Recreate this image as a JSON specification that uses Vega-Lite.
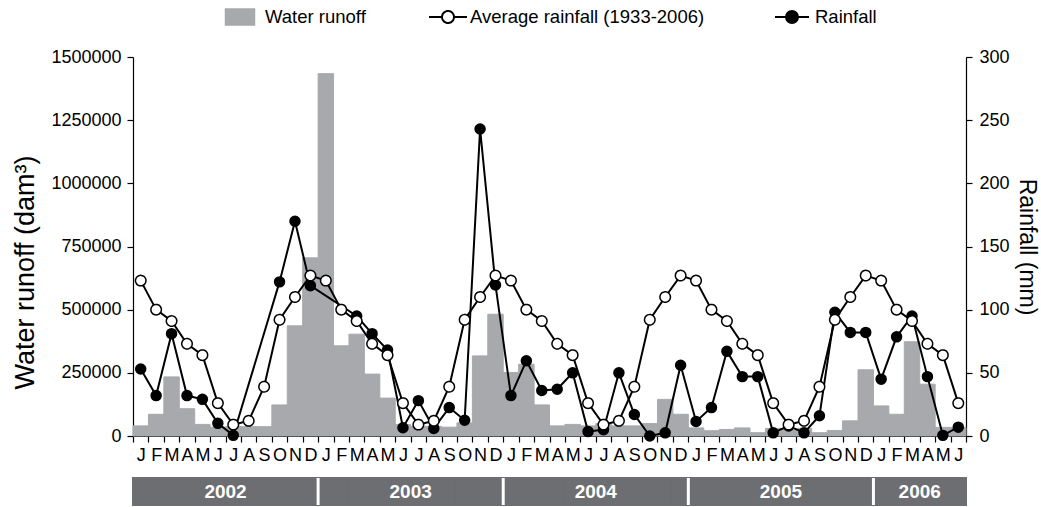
{
  "$schema": "https://vega.github.io/schema/vega-lite/v6.json",
  "background": "white",
  "padding": {"left": 11, "top": 6, "right": 4, "bottom": 2},
  "config": {
    "view": {"stroke": null},
    "font": "Liberation Sans",
    "axis": {"labelColor": "black", "titleColor": "black", "domainColor": "black", "tickColor": "black", "grid": false, "labelFont": "Liberation Sans", "titleFont": "Liberation Sans", "titleFontWeight": "normal", "domainWidth": 1.2, "tickWidth": 1.2},
    "legend": {"labelFontSize": 18.5, "labelFont": "Liberation Sans", "labelColor": "black", "labelLimit": 500, "symbolSize": 400, "orient": "none", "direction": "horizontal"}
  },
  "datasets": {
    "months": [
      {"m": "2002-01", "year": "2002", "runoff": 40000, "avg": 123, "rain": 53},
      {"m": "2002-02", "year": "2002", "runoff": 86000, "avg": 100, "rain": 32},
      {"m": "2002-03", "year": "2002", "runoff": 234000, "avg": 91, "rain": 81},
      {"m": "2002-04", "year": "2002", "runoff": 108000, "avg": 73, "rain": 32},
      {"m": "2002-05", "year": "2002", "runoff": 46000, "avg": 64, "rain": 29},
      {"m": "2002-06", "year": "2002", "runoff": 35000, "avg": 26, "rain": 10},
      {"m": "2002-07", "year": "2002", "runoff": 37000, "avg": 9, "rain": 0.5},
      {"m": "2002-08", "year": "2002", "runoff": 37000, "avg": 12, "rain": null},
      {"m": "2002-09", "year": "2002", "runoff": 37000, "avg": 39, "rain": null},
      {"m": "2002-10", "year": "2002", "runoff": 123000, "avg": 92, "rain": 122},
      {"m": "2002-11", "year": "2002", "runoff": 436000, "avg": 110, "rain": 170},
      {"m": "2002-12", "year": "2002", "runoff": 705000, "avg": 127, "rain": 119},
      {"m": "2003-01", "year": "2003", "runoff": 1434000, "avg": 123, "rain": null},
      {"m": "2003-02", "year": "2003", "runoff": 357000, "avg": 100, "rain": null},
      {"m": "2003-03", "year": "2003", "runoff": 403000, "avg": 91, "rain": 95},
      {"m": "2003-04", "year": "2003", "runoff": 245000, "avg": 73, "rain": 81},
      {"m": "2003-05", "year": "2003", "runoff": 150000, "avg": 64, "rain": 68},
      {"m": "2003-06", "year": "2003", "runoff": 45000, "avg": 26, "rain": 6.5},
      {"m": "2003-07", "year": "2003", "runoff": 38000, "avg": 9, "rain": 28},
      {"m": "2003-08", "year": "2003", "runoff": 38000, "avg": 12, "rain": 6},
      {"m": "2003-09", "year": "2003", "runoff": 35000, "avg": 39, "rain": 22.5},
      {"m": "2003-10", "year": "2003", "runoff": 52000, "avg": 92, "rain": 12.5},
      {"m": "2003-11", "year": "2003", "runoff": 317000, "avg": 110, "rain": 243},
      {"m": "2003-12", "year": "2003", "runoff": 482000, "avg": 127, "rain": 119.5},
      {"m": "2004-01", "year": "2004", "runoff": 251000, "avg": 123, "rain": 32},
      {"m": "2004-02", "year": "2004", "runoff": 284000, "avg": 100, "rain": 59.5},
      {"m": "2004-03", "year": "2004", "runoff": 123000, "avg": 91, "rain": 36},
      {"m": "2004-04", "year": "2004", "runoff": 40000, "avg": 73, "rain": 37},
      {"m": "2004-05", "year": "2004", "runoff": 46000, "avg": 64, "rain": 50},
      {"m": "2004-06", "year": "2004", "runoff": 40000, "avg": 26, "rain": 3.5},
      {"m": "2004-07", "year": "2004", "runoff": 49000, "avg": 9, "rain": 5},
      {"m": "2004-08", "year": "2004", "runoff": 40000, "avg": 12, "rain": 50},
      {"m": "2004-09", "year": "2004", "runoff": 40000, "avg": 39, "rain": 17},
      {"m": "2004-10", "year": "2004", "runoff": 49000, "avg": 92, "rain": 0},
      {"m": "2004-11", "year": "2004", "runoff": 145000, "avg": 110, "rain": 2.5},
      {"m": "2004-12", "year": "2004", "runoff": 86000, "avg": 127, "rain": 56},
      {"m": "2005-01", "year": "2005", "runoff": 32000, "avg": 123, "rain": 11.5},
      {"m": "2005-02", "year": "2005", "runoff": 21000, "avg": 100, "rain": 22.5},
      {"m": "2005-03", "year": "2005", "runoff": 26000, "avg": 91, "rain": 67},
      {"m": "2005-04", "year": "2005", "runoff": 32000, "avg": 73, "rain": 47},
      {"m": "2005-05", "year": "2005", "runoff": 13000, "avg": 64, "rain": 47},
      {"m": "2005-06", "year": "2005", "runoff": 30000, "avg": 26, "rain": 2.5},
      {"m": "2005-07", "year": "2005", "runoff": 26000, "avg": 9, "rain": 8},
      {"m": "2005-08", "year": "2005", "runoff": 30000, "avg": 12, "rain": 2.5},
      {"m": "2005-09", "year": "2005", "runoff": 13000, "avg": 39, "rain": 16},
      {"m": "2005-10", "year": "2005", "runoff": 22000, "avg": 92, "rain": 98},
      {"m": "2005-11", "year": "2005", "runoff": 60000, "avg": 110, "rain": 82},
      {"m": "2005-12", "year": "2005", "runoff": 262000, "avg": 127, "rain": 82},
      {"m": "2006-01", "year": "2006", "runoff": 119000, "avg": 123, "rain": 45},
      {"m": "2006-02", "year": "2006", "runoff": 86000, "avg": 100, "rain": 78.5},
      {"m": "2006-03", "year": "2006", "runoff": 373000, "avg": 91, "rain": 95},
      {"m": "2006-04", "year": "2006", "runoff": 205000, "avg": 73, "rain": 47},
      {"m": "2006-05", "year": "2006", "runoff": 34000, "avg": 64, "rain": 0.5},
      {"m": "2006-06", "year": "2006", "runoff": 34000, "avg": 26, "rain": 7}
    ]
  },
  "spacing": 12,
  "vconcat": [
    {
      "width": 833,
      "height": 379,
      "data": {"name": "months"},
      "encoding": {
        "x": {
          "field": "m", "type": "ordinal", "sort": null,
          "scale": {"paddingInner": 0, "paddingOuter": 0},
          "axis": {"title": null, "tickBand": "extent", "labelAngle": 0, "tickSize": 6, "labelFontSize": 18, "labelPadding": 4,
                   "labelExpr": "substring('JFMAMJJASOND', toNumber(substring(datum.value, 5, 7)) - 1, toNumber(substring(datum.value, 5, 7)))"}
        }
      },
      "layer": [
        {
          "mark": {"type": "bar", "stroke": "#a7a9ac", "strokeWidth": 1},
          "encoding": {
            "y": {"field": "runoff", "type": "quantitative", "title": "Water runoff (dam³)",
                  "scale": {"domain": [0, 1500000], "nice": false},
                  "axis": {"orient": "left", "values": [0, 250000, 500000, 750000, 1000000, 1250000, 1500000], "format": "d", "tickSize": 6, "labelPadding": 6, "labelFontSize": 18, "titleFontSize": 27, "titlePadding": 11, "titleY": 215}},
            "color": {
              "datum": "Water runoff",
              "scale": {"domain": ["Water runoff"], "range": ["#a7a9ac"]},
              "legend": {
                "legendX": 96, "legendY": -51, "title": null, "labelOffset": 14,
                "symbolType": "M-1.45,-0.8H1.45V0.8H-1.45Z"
              }
            }
          }
        },
        {
          "layer": [
            {
              "mark": {"type": "line", "strokeWidth": 2, "color": "black", "invalid": "filter"},
              "encoding": {
                "y": {"field": "rain", "type": "quantitative", "title": "Rainfall (mm)", "scale": {"domain": [0, 300], "nice": false},
                      "axis": {"orient": "right", "values": [0, 50, 100, 150, 200, 250, 300], "tickSize": 6, "labelPadding": 7, "labelFontSize": 18, "titleFontSize": 23, "titlePadding": 5}}
              }
            },
            {
              "mark": {"type": "point", "filled": true, "fill": "black", "stroke": "black", "size": 90, "opacity": 1, "invalid": "filter"},
              "encoding": {
                "y": {"field": "rain", "type": "quantitative", "title": "Rainfall (mm)", "scale": {"domain": [0, 300], "nice": false}},
                "strokeWidth": {
                  "datum": "Rainfall",
                  "scale": {"domain": ["Rainfall"], "range": [2, 2]},
                  "legend": {
                    "legendX": 648, "legendY": -51, "title": null, "labelOffset": 12,
                    "symbolType": "M-1.7,0H-0.6M0.6,0H1.7M0.6,0A0.6,0.6,0,1,1,-0.6,0A0.6,0.6,0,1,1,0.6,0Z"
                  }
                }
              }
            },
            {
              "mark": {"type": "line", "strokeWidth": 2, "color": "black"},
              "encoding": {
                "y": {"field": "avg", "type": "quantitative", "title": "Rainfall (mm)", "scale": {"domain": [0, 300], "nice": false}}
              }
            },
            {
              "mark": {"type": "point", "filled": false, "fill": "white", "stroke": "black", "strokeWidth": 1.5, "size": 110, "opacity": 1},
              "encoding": {
                "y": {"field": "avg", "type": "quantitative", "title": "Rainfall (mm)", "scale": {"domain": [0, 300], "nice": false}},
                "strokeDash": {
                  "datum": "Average rainfall (1933-2006)",
                  "scale": {"domain": ["Average rainfall (1933-2006)"], "range": [[1, 0]]},
                  "legend": {
                    "legendX": 304, "legendY": -51, "title": null, "labelOffset": 11,
                    "symbolStrokeWidth": 2,
                    "symbolType": "M-1.9,0H-0.6M0.6,0H1.9M0.6,0A0.6,0.6,0,1,1,-0.6,0A0.6,0.6,0,1,1,0.6,0Z"
                  }
                }
              }
            }
          ]
        }
      ],
      "resolve": {"scale": {"y": "independent"}}
    },
    {
      "width": 833,
      "height": 27,
      "data": {"name": "months"},
      "encoding": {
        "x": {"field": "m", "type": "ordinal", "sort": null, "scale": {"paddingInner": 0, "paddingOuter": 0}, "axis": null}
      },
      "layer": [
        {"mark": {"type": "bar", "color": "#6d6e71", "stroke": "#6d6e71", "strokeWidth": 2}},
        {
          "transform": [{"filter": "substring(datum.m, 5, 7) == '01' && datum.m != '2002-01'"}],
          "mark": {"type": "rule", "color": "white", "strokeWidth": 3},
          "encoding": {"x": {"field": "m", "type": "ordinal", "sort": null, "bandPosition": 0}}
        },
        {
          "transform": [{"filter": "datum.m == '2002-07' || datum.m == '2003-07' || datum.m == '2004-07' || datum.m == '2005-07' || datum.m == '2006-04'"}],
          "mark": {"type": "text", "color": "white", "fontWeight": "bold", "fontSize": 19, "baseline": "middle", "align": "center", "font": "Liberation Sans"},
          "encoding": {
            "x": {"field": "m", "type": "ordinal", "sort": null, "bandPosition": 0},
            "text": {"field": "year"}
          }
        }
      ]
    }
  ]
}
